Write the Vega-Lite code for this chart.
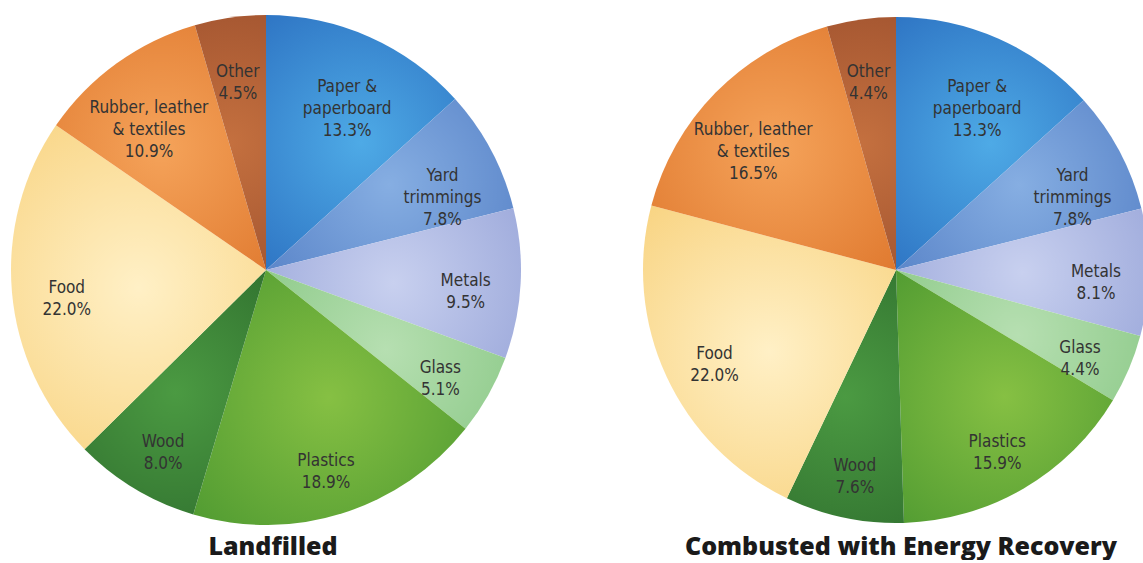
{
  "$schema": "https://vega.github.io/schema/vega-lite/v6.json",
  "background": "white",
  "padding": 0,
  "config": {
    "view": {"stroke": null},
    "concat": {"spacing": 111},
    "title": {"font": "Open Sans", "fontWeight": 800, "fontSize": 25, "color": "#1a1a1a", "orient": "bottom", "anchor": "middle", "offset": -5}
  },
  "datasets": {
    "landfilled": [
      {"rank": 1, "category": "Paper & paperboard", "label": "Paper &\npaperboard\n13.3%", "pct": 13.3},
      {"rank": 2, "category": "Yard trimmings", "label": "Yard\ntrimmings\n7.8%", "pct": 7.8},
      {"rank": 3, "category": "Metals", "label": "Metals\n9.5%", "pct": 9.5},
      {"rank": 4, "category": "Glass", "label": "Glass\n5.1%", "pct": 5.1},
      {"rank": 5, "category": "Plastics", "label": "Plastics\n18.9%", "pct": 18.9},
      {"rank": 6, "category": "Wood", "label": "Wood\n8.0%", "pct": 8.0},
      {"rank": 7, "category": "Food", "label": "Food\n22.0%", "pct": 22.0},
      {"rank": 8, "category": "Rubber, leather & textiles", "label": "Rubber, leather\n& textiles\n10.9%", "pct": 10.9},
      {"rank": 9, "category": "Other", "label": "Other\n4.5%", "pct": 4.5}
    ],
    "combusted": [
      {"rank": 1, "category": "Paper & paperboard", "label": "Paper &\npaperboard\n13.3%", "pct": 13.3},
      {"rank": 2, "category": "Yard trimmings", "label": "Yard\ntrimmings\n7.8%", "pct": 7.8},
      {"rank": 3, "category": "Metals", "label": "Metals\n8.1%", "pct": 8.1},
      {"rank": 4, "category": "Glass", "label": "Glass\n4.4%", "pct": 4.4},
      {"rank": 5, "category": "Plastics", "label": "Plastics\n15.9%", "pct": 15.9},
      {"rank": 6, "category": "Wood", "label": "Wood\n7.6%", "pct": 7.6},
      {"rank": 7, "category": "Food", "label": "Food\n22.0%", "pct": 22.0},
      {"rank": 8, "category": "Rubber, leather & textiles", "label": "Rubber, leather\n& textiles\n16.5%", "pct": 16.5},
      {"rank": 9, "category": "Other", "label": "Other\n4.4%", "pct": 4.4}
    ]
  },
  "hconcat": [
    {
      "width": 532,
      "height": 540,
      "data": {"name": "landfilled"},
      "title": {"text": "Landfilled", "dx": 7},
      "encoding": {
        "theta": {"field": "pct", "type": "quantitative", "stack": true},
        "order": {"field": "rank", "type": "quantitative"},
        "detail": {"field": "category", "type": "nominal"}
      },
      "layer": [
        {
          "mark": {"type": "arc", "outerRadius": 255},
          "encoding": {
            "color": {
              "condition": [
                {"test": "datum.category === 'Paper & paperboard'", "value": {"gradient": "radial", "x1": 0.5, "y1": 0.5, "r1": 0, "x2": 0.5, "y2": 0.5, "r2": 0.7, "stops": [{"offset": 0, "color": "#4eaae6"}, {"offset": 1, "color": "#2b6fc0"}]}},
                {"test": "datum.category === 'Yard trimmings'", "value": {"gradient": "radial", "x1": 0.5, "y1": 0.5, "r1": 0, "x2": 0.5, "y2": 0.5, "r2": 0.7, "stops": [{"offset": 0, "color": "#86aee2"}, {"offset": 1, "color": "#5580c6"}]}},
                {"test": "datum.category === 'Metals'", "value": {"gradient": "radial", "x1": 0.5, "y1": 0.5, "r1": 0, "x2": 0.5, "y2": 0.5, "r2": 0.7, "stops": [{"offset": 0, "color": "#c8d0ef"}, {"offset": 1, "color": "#97a4d8"}]}},
                {"test": "datum.category === 'Glass'", "value": {"gradient": "radial", "x1": 0.5, "y1": 0.5, "r1": 0, "x2": 0.5, "y2": 0.5, "r2": 0.7, "stops": [{"offset": 0, "color": "#b6dfb1"}, {"offset": 1, "color": "#8ac886"}]}},
                {"test": "datum.category === 'Plastics'", "value": {"gradient": "radial", "x1": 0.5, "y1": 0.5, "r1": 0, "x2": 0.5, "y2": 0.5, "r2": 0.7, "stops": [{"offset": 0, "color": "#86c043"}, {"offset": 1, "color": "#4f9a31"}]}},
                {"test": "datum.category === 'Wood'", "value": {"gradient": "radial", "x1": 0.5, "y1": 0.5, "r1": 0, "x2": 0.5, "y2": 0.5, "r2": 0.7, "stops": [{"offset": 0, "color": "#4b9a42"}, {"offset": 1, "color": "#2f6f2e"}]}},
                {"test": "datum.category === 'Food'", "value": {"gradient": "radial", "x1": 0.5, "y1": 0.5, "r1": 0, "x2": 0.5, "y2": 0.5, "r2": 0.7, "stops": [{"offset": 0, "color": "#fff0c6"}, {"offset": 1, "color": "#f8d27e"}]}},
                {"test": "datum.category === 'Rubber, leather & textiles'", "value": {"gradient": "radial", "x1": 0.5, "y1": 0.5, "r1": 0, "x2": 0.5, "y2": 0.5, "r2": 0.7, "stops": [{"offset": 0, "color": "#f5a35a"}, {"offset": 1, "color": "#e07a30"}]}}
              ],
              "value": {"gradient": "radial", "x1": 0.5, "y1": 0.5, "r1": 0, "x2": 0.5, "y2": 0.5, "r2": 0.7, "stops": [{"offset": 0, "color": "#c4703f"}, {"offset": 1, "color": "#9c4f2d"}]}
            }
          }
        },
        {
          "mark": {"type": "text", "radius": 200, "font": "DejaVu Sans Condensed, Liberation Sans", "fontSize": 17, "lineHeight": 22, "lineBreak": "\n", "align": "center", "baseline": "middle", "fill": "#333333"},
          "encoding": {"text": {"field": "label"}}
        }
      ]
    },
    {
      "width": 500,
      "height": 540,
      "data": {"name": "combusted"},
      "title": {"text": "Combusted with Energy Recovery", "dx": 5},
      "encoding": {
        "theta": {"field": "pct", "type": "quantitative", "stack": true},
        "order": {"field": "rank", "type": "quantitative"},
        "detail": {"field": "category", "type": "nominal"}
      },
      "layer": [
        {
          "mark": {"type": "arc", "outerRadius": 253},
          "encoding": {
            "color": {
              "condition": [
                {"test": "datum.category === 'Paper & paperboard'", "value": {"gradient": "radial", "x1": 0.5, "y1": 0.5, "r1": 0, "x2": 0.5, "y2": 0.5, "r2": 0.7, "stops": [{"offset": 0, "color": "#4eaae6"}, {"offset": 1, "color": "#2b6fc0"}]}},
                {"test": "datum.category === 'Yard trimmings'", "value": {"gradient": "radial", "x1": 0.5, "y1": 0.5, "r1": 0, "x2": 0.5, "y2": 0.5, "r2": 0.7, "stops": [{"offset": 0, "color": "#86aee2"}, {"offset": 1, "color": "#5580c6"}]}},
                {"test": "datum.category === 'Metals'", "value": {"gradient": "radial", "x1": 0.5, "y1": 0.5, "r1": 0, "x2": 0.5, "y2": 0.5, "r2": 0.7, "stops": [{"offset": 0, "color": "#c8d0ef"}, {"offset": 1, "color": "#97a4d8"}]}},
                {"test": "datum.category === 'Glass'", "value": {"gradient": "radial", "x1": 0.5, "y1": 0.5, "r1": 0, "x2": 0.5, "y2": 0.5, "r2": 0.7, "stops": [{"offset": 0, "color": "#b6dfb1"}, {"offset": 1, "color": "#8ac886"}]}},
                {"test": "datum.category === 'Plastics'", "value": {"gradient": "radial", "x1": 0.5, "y1": 0.5, "r1": 0, "x2": 0.5, "y2": 0.5, "r2": 0.7, "stops": [{"offset": 0, "color": "#86c043"}, {"offset": 1, "color": "#4f9a31"}]}},
                {"test": "datum.category === 'Wood'", "value": {"gradient": "radial", "x1": 0.5, "y1": 0.5, "r1": 0, "x2": 0.5, "y2": 0.5, "r2": 0.7, "stops": [{"offset": 0, "color": "#4b9a42"}, {"offset": 1, "color": "#2f6f2e"}]}},
                {"test": "datum.category === 'Food'", "value": {"gradient": "radial", "x1": 0.5, "y1": 0.5, "r1": 0, "x2": 0.5, "y2": 0.5, "r2": 0.7, "stops": [{"offset": 0, "color": "#fff0c6"}, {"offset": 1, "color": "#f8d27e"}]}},
                {"test": "datum.category === 'Rubber, leather & textiles'", "value": {"gradient": "radial", "x1": 0.5, "y1": 0.5, "r1": 0, "x2": 0.5, "y2": 0.5, "r2": 0.7, "stops": [{"offset": 0, "color": "#f5a35a"}, {"offset": 1, "color": "#e07a30"}]}}
              ],
              "value": {"gradient": "radial", "x1": 0.5, "y1": 0.5, "r1": 0, "x2": 0.5, "y2": 0.5, "r2": 0.7, "stops": [{"offset": 0, "color": "#c4703f"}, {"offset": 1, "color": "#9c4f2d"}]}
            }
          }
        },
        {
          "mark": {"type": "text", "radius": 200, "font": "DejaVu Sans Condensed, Liberation Sans", "fontSize": 17, "lineHeight": 22, "lineBreak": "\n", "align": "center", "baseline": "middle", "fill": "#333333"},
          "encoding": {"text": {"field": "label"}}
        }
      ]
    }
  ]
}
